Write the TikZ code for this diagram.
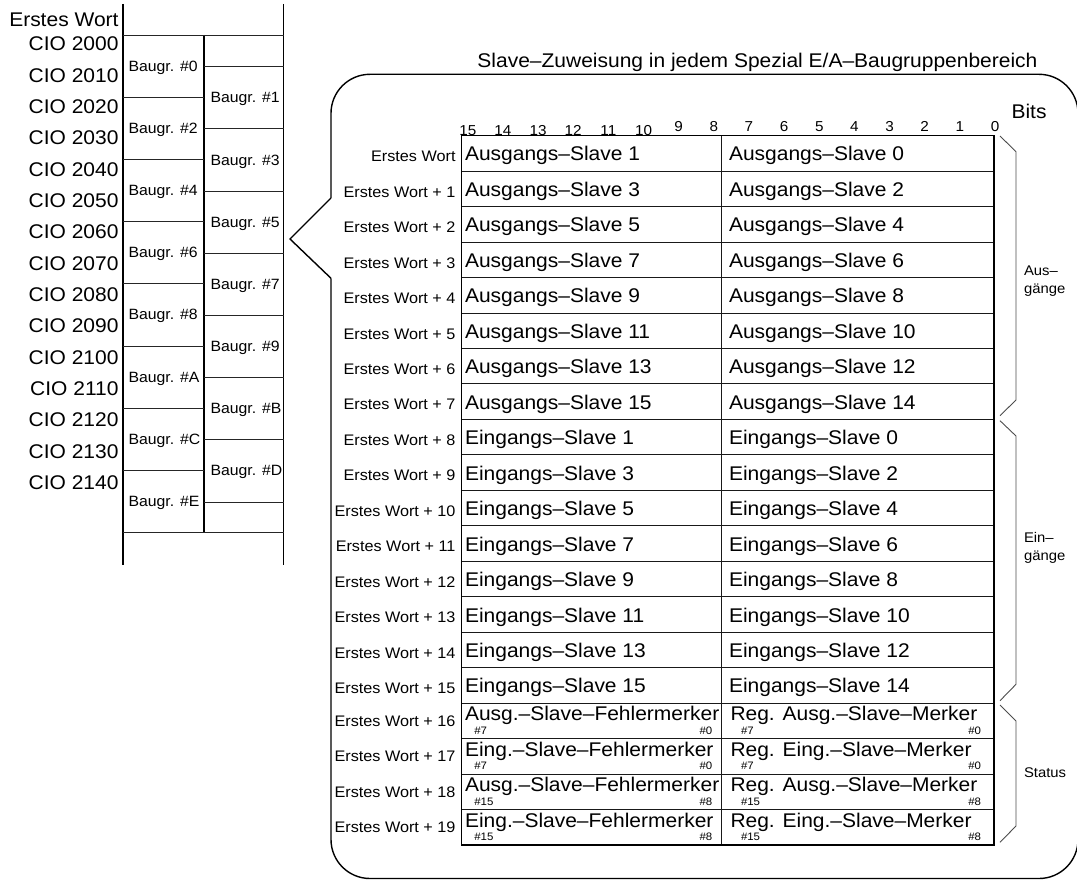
\documentclass[tikz,border=0pt]{standalone}
\usepackage{fontspec}
\setmainfont{Liberation Sans}[FakeStretch=1.06]
\newcommand\SzBig{\fontsize{19.8}{22}\selectfont}
\newcommand\SzMid{\fontsize{14.9}{17}\selectfont}
\newcommand\SzRow{\fontsize{15.3}{17}\selectfont}
\newcommand\SzBit{\fontsize{14.4}{16}\selectfont}
\newcommand\SzSide{\fontsize{14}{18}\selectfont}
\newcommand\SzSub{\fontsize{10.8}{12}\selectfont}
\tikzset{
  every node/.style={inner sep=0pt, outer sep=0pt},
  leftframe/.style={line width=1.2pt, draw=black},
  leftrule/.style={line width=0.9pt, draw=black!85},
  calloutline/.style={line width=1.4pt, draw=black},
  tablebox/.style={line width=1.4pt, draw=black},
  tablerule/.style={line width=1pt, draw=black!90},
  bracket/.style={line width=0.9pt, draw=black!70},
  ciolab/.style={font=\SzBig, anchor=base east},
  grplab/.style={font=\SzMid, anchor=west},
  rowlab/.style={font=\SzRow, anchor=base east},
  celltext/.style={font=\SzBig, anchor=base west},
  subl/.style={font=\SzSub, anchor=base west},
  subr/.style={font=\SzSub, anchor=base east},
  bitlab/.style={font=\SzBit, anchor=base},
  sidelab/.style={font=\SzSide, anchor=west, align=left},
}
\begin{document}
\begin{tikzpicture}[x=1pt,y=-1pt]
\useasboundingbox (0,0) rectangle (1077,880);

% ---------------- left memory map ----------------
\draw[leftframe] (123,4) -- (123,565);
\draw[leftframe] (283.5,4) -- (283.5,565);
\draw[leftframe] (204,35) -- (204,532.7);
\draw[leftrule] (123,35) -- (283.5,35);
\draw[leftrule] (123,532.7) -- (283.5,532.7);
\foreach \k in {1,...,7}{
  \draw[leftrule] (123,{35+62.2*\k}) -- (204,{35+62.2*\k});
}
\foreach \k in {0,...,7}{
  \draw[leftrule] (204,{66.7+62.2*\k}) -- (283.5,{66.7+62.2*\k});
}
\node[ciolab] (ew) at (118.5,27) {Erstes Wort};
\foreach \k in {0,...,14}{
  \pgfmathtruncatemacro\num{2000+10*\k}
  \node[ciolab] (cio\k) at (118.5,{51+31.33*\k}) {CIO \num};
}
\foreach \k/\g in {0/0,1/2,2/4,3/6,4/8,5/A,6/C,7/E}{
  \node[grplab] (bl\k) at (128.5,{35+62.2*\k+32.5}) {Baugr. \#\g};
}
\foreach \k/\g in {0/1,1/3,2/5,3/7,4/9,5/B,6/D}{
  \node[grplab] (br\k) at (210.5,{66.7+62.2*\k+32.5}) {Baugr. \#\g};
}

% ---------------- callout ----------------
\coordinate (ptip) at (290,239);
\coordinate (pa) at (331,198);
\coordinate (pb) at (331,278.3);
\draw[calloutline] (pa) -- (ptip) -- (pb);
\draw[calloutline, rounded corners=39pt] (pb) -- (331,878.5) -- (1078,878.5) -- (1078,74.3) -- (331,74.3) -- (pa);
\node[font=\SzBig, anchor=base east] (title) at (1037.5,67.7) {Slave–Zuweisung in jedem Spezial E/A–Baugruppenbereich};
\node[font=\SzBig, anchor=base west] (bits) at (1011.5,118.3) {Bits};

% bit numbers
\foreach \b in {0,...,15}{
  \ifnum\b>9
    \node[bitlab] (bit\b) at ({995-35.15*\b},135.4) {\b};
  \else
    \node[bitlab] (bit\b) at ({995-35.15*\b},131.7) {\b};
  \fi
}

% ---------------- table ----------------
\foreach \i in {1,...,19}{
  \draw[tablerule] (461.5,{135.7+35.47*\i}) -- (994,{135.7+35.47*\i});
}
\draw[tablerule] (721,135.7) -- (721,845);
\draw[tablebox] (461.5,135.7) rectangle (994,845);

% row labels
\foreach \i in {0,...,19}{
  \ifnum\i<16
    \pgfmathsetmacro\yb{135.7+35.47*\i+26}
  \else
    \pgfmathsetmacro\yb{135.7+35.47*\i+23}
  \fi
  \ifnum\i=0
    \node[rowlab] (rl\i) at (455.5,\yb) {Erstes Wort};
  \else
    \node[rowlab] (rl\i) at (455.5,\yb) {Erstes Wort + \i};
  \fi
}

% slave rows
\foreach \i in {0,...,15}{
  \pgfmathsetmacro\yb{135.7+35.47*\i+25.2}
  \pgfmathtruncatemacro\j{mod(\i,8)}
  \pgfmathtruncatemacro\odd{2*\j+1}
  \pgfmathtruncatemacro\even{2*\j}
  \ifnum\i<8 \def\kind{Ausgangs}\else\def\kind{Eingangs}\fi
  \node[celltext] (cl\i) at (465,\yb) {\kind–Slave \odd};
  \node[celltext] (cr\i) at (729,\yb) {\kind–Slave \even};
}

% status rows
\foreach \i/\a/\hi/\lo in {16/Ausg./7/0,17/Eing./7/0,18/Ausg./15/8,19/Eing./15/8}{
  \pgfmathsetmacro\yt{135.7+35.47*\i}
  \node[celltext] (cl\i) at (465,{\yt+17.5}) {\a–Slave–Fehlermerker};
  \node[celltext] (cr\i) at (730.5,{\yt+17.5}) {Reg. \a–Slave–Merker};
  \node[subl] (slh\i) at (474.3,{\yt+31}) {\#\hi};
  \node[subr] (sll\i) at (712.3,{\yt+31}) {\#\lo};
  \node[subl] (srh\i) at (741,{\yt+31}) {\#\hi};
  \node[subr] (srl\i) at (981,{\yt+31}) {\#\lo};
}

% ---------------- brackets ----------------
\draw[bracket] (1000,136) -- (1016,151.7) -- (1016,400) -- (1000,415.7);
\draw[bracket] (1000,420.7) -- (1016,436) -- (1016,684.3) -- (1000,700.7);
\draw[bracket] (1000,705) -- (1016,721) -- (1016,826) -- (1000,842.3);
\node[sidelab] (aus) at (1024,281.5) {Aus–\\gänge};
\node[sidelab] (ein) at (1024,547.5) {Ein–\\gänge};
\node[sidelab] (stat) at (1024,773) {Status};
\end{tikzpicture}
\end{document}
